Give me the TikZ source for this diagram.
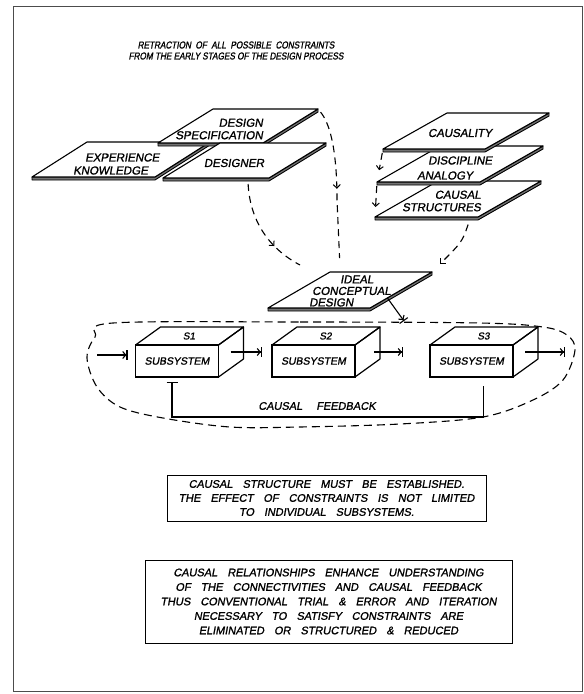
\documentclass[tikz,border=0pt]{standalone}
\usepackage{fontspec}
\newfontfamily\hand{Liberation Sans}[FakeSlant=0.18,FakeBold=1.2]
\newfontfamily\handnarrow{Liberation Sans}[FakeSlant=0.18,FakeStretch=0.82,FakeBold=1.2]
\usetikzlibrary{arrows.meta,calc,decorations.markings}

% wide gap between hand-lettered words
\newcommand\wg{\hspace{10pt}}
\newcommand\tg{\hspace{4.5pt}}

\tikzset{
  frame/.style={draw=black!70, line width=1pt},
  heading/.style={font=\handnarrow\fontsize{10}{11}\selectfont, align=center, inner sep=0pt},
  slabedge/.style={draw=black, fill=black!55, line width=0.9pt, line join=round},
  slabface/.style={draw=black, fill=white, line width=1.1pt, line join=round},
  slabtext/.style={font=\hand\fontsize{11.5}{12.5}\selectfont, inner sep=0pt},
  flow/.style={draw, dash pattern=on 7pt off 5pt, line width=1.1pt},
  midtip/.style={postaction={decorate}, decoration={markings,
      mark=at position #1 with {\arrow{Straight Barb[length=3.5pt,width=7pt,line width=1pt]}}}},
  endtip/.style={-{Straight Barb[length=3.5pt,width=7pt,line width=1pt]}},
  sysfront/.style={draw, line width=1.2pt, minimum width=83pt, minimum height=32pt,
      inner sep=0pt, outer sep=0pt, fill=white, font=\hand\fontsize{10.5}{12}\selectfont},
  sysline/.style={line width=1.2pt, line join=round},
  systag/.style={font=\hand\fontsize{10}{11}\selectfont, inner sep=0pt},
  signal/.style={line width=1.1pt, -{Straight Barb[length=3pt,width=7pt]Bar[width=10pt]}},
  feedback/.style={line width=1.1pt, -{Bar[width=11pt]}},
  loopline/.style={dash pattern=on 8pt off 5pt, line width=1.1pt},
  loopnote/.style={font=\hand\fontsize{11}{12}\selectfont, inner sep=0pt},
  note/.style={draw, line width=1pt, align=center, inner sep=0pt, outer sep=0pt,
      font=\hand\fontsize{11}{14}\selectfont},
}

% flat slab: name, bottom-left x, bottom-left y, width, height, skew
\newcommand\drawslab[6]{%
  \coordinate (#1-bl) at (#2,#3);
  \coordinate (#1-br) at ($(#1-bl)+(#4,0)$);
  \coordinate (#1-tr) at ($(#1-br)+(#6,-#5)$);
  \coordinate (#1-tl) at ($(#1-bl)+(#6,-#5)$);
  \filldraw[slabedge] (#1-bl) -- (#1-br) -- (#1-tr) -- ++(0,3)
      -- ($(#1-br)+(0,3)$) -- ($(#1-bl)+(0,3)$) -- cycle;
  \filldraw[slabface] (#1-bl) -- (#1-br) -- (#1-tr) -- (#1-tl) -- cycle;
}

% box-shaped subsystem: name, centre x, centre y, tag
\newcommand\drawsubsystem[4]{%
  \node[sysfront] (#1) at (#2,#3) {SUBSYSTEM};
  \draw[sysline] (#1.north west) -- ++(25,-18) -- ($(#1.north east)+(25,-18)$) -- (#1.north east);
  \draw[sysline] (#1.north east) -- ++(25,-18) -- ++(0,32) -- (#1.south east);
  \node[systag] (#1-tag) at ($(#1.north)+(12,-9)$) {#4};
  \coordinate (#1-out) at ($(#1.east)+(12,-9)$);
}

\begin{document}
\begin{tikzpicture}[x=1pt,y=-1pt]
\useasboundingbox (0,0) rectangle (584,694);
\fill[white] (0,0) rectangle (584,694);
\draw[frame] (13,6) rectangle (582,691);

\node[heading] (title) at (236,50.5)
  {RETRACTION\tg OF\tg ALL\tg POSSIBLE\tg CONSTRAINTS\\FROM THE EARLY STAGES OF THE DESIGN PROCESS};

% input slabs
\drawslab{exp}{32}{177}{123}{35}{55}
\drawslab{spec}{158}{143}{105}{34}{55}
\drawslab{des}{163}{178}{106}{35}{57}
\drawslab{cs}{375}{217}{103}{36}{63}
\drawslab{disc}{377}{182}{103}{36}{63}
\drawslab{caus}{383}{149}{102}{36}{64}
\drawslab{ideal}{268}{308}{102}{36}{62}

\node[slabtext, align=right, anchor=east] (spec) at (263,129) {DESIGN\\SPECIFICATION};
\node[slabtext, align=left, anchor=west] (exp) at (73,164) {\hspace*{12pt}EXPERIENCE\\[0.5pt]KNOWLEDGE};
\node[slabtext] (des) at (234,163) {DESIGNER};
\node[slabtext] (caus) at (460,133) {CAUSALITY};
\node[slabtext, align=left, anchor=west] (disc) at (417,168) {\hspace*{11pt}DISCIPLINE\\[2.5pt]ANALOGY};
\node[slabtext, align=right, anchor=east] (cs) at (481,201) {CAUSAL\\STRUCTURES};
\node[slabtext, align=left, anchor=west, font=\hand\fontsize{11.5}{11.5}\selectfont] (ideal) at (309,291)
  {\hspace*{31pt}IDEAL\\\hspace*{3pt}CONCEPTUAL\\DESIGN};

% dashed influences
\coordinate (des-s) at ($(des-bl)!0.8!(des-br)$);
\coordinate (ideal-nw) at ($(ideal-tl)+(-30,-7)$);
\coordinate (ideal-in) at ($(ideal-tl)!0.1!(ideal-tr)$);
\coordinate (cs-s) at ($(cs-bl)!0.93!(cs-br)$);

\draw[flow, midtip=0.5, shorten <=4pt, shorten >=14pt] (spec-tr) .. controls (332,126) and (337,158) .. (337,200) -- (ideal-in);
\draw[flow, midtip=0.7, shorten <=6pt] (des-s) .. controls (250,220) and (268,248) .. (ideal-nw);
\draw[flow, endtip, shorten <=8pt, shorten >=12pt] (cs-s) .. controls (462,242) .. (ideal-tr);
\draw[flow, endtip, shorten <=4pt, shorten >=12pt] (caus-bl) -- (disc-bl);
\draw[flow, endtip, shorten <=4pt, shorten >=10pt] (disc-bl) -- (cs-bl);

% system boundary
\draw[loopline] plot[smooth cycle, tension=0.55] coordinates {
  (113,323) (300,322) (480,323) (543,327) (567,335) (575,350) (563,380)
  (533,400) (483,417) (400,424) (300,427) (230,427) (163,418) (120,407)
  (97,387) (87,358) (95,337)};
\coordinate (loop-n) at (404,321);
\draw[signal] ($(ideal-br)!0.28!(ideal-tr)$) -- (loop-n);

% subsystems
\drawsubsystem{s1}{177}{361}{S1}
\drawsubsystem{s2}{313.5}{361}{S2}
\drawsubsystem{s3}{471.5}{361}{S3}

\coordinate (sys-in) at (97,355);
\coordinate (sys-out) at (565,352);
\draw[signal, shorten >=8pt] (sys-in) -- (sys-in -| s1.west);
\draw[signal, shorten >=10pt] (s1-out) -- (s1-out -| s2.west);
\draw[signal, shorten <=7pt, shorten >=27pt] (s2-out) -- (s2-out -| s3.west);
\draw[signal] (s3-out) -- (sys-out);

\draw[feedback, shorten <=9pt] ([xshift=12pt]s3.south) -- ++(0,40) -| ([xshift=-5pt,yshift=-5pt]s1.south);
\node[loopnote] (fbk) at (317,406) {CAUSAL\hspace{14pt}FEEDBACK};

% conclusions
\node[note, minimum width=319pt, minimum height=46pt] (noteA) at (326.5,498)
  {CAUSAL\wg STRUCTURE\wg MUST\wg BE\wg ESTABLISHED.\\
   THE\wg EFFECT\wg OF\wg CONSTRAINTS\wg IS\wg NOT\wg LIMITED\\
   TO\wg INDIVIDUAL\wg SUBSYSTEMS.};
\node[note, minimum width=367pt, minimum height=83pt, font=\hand\fontsize{11}{14.5}\selectfont] (noteB) at (328.5,601.5)
  {CAUSAL\wg RELATIONSHIPS\wg ENHANCE\wg UNDERSTANDING\\
   OF\wg THE\wg CONNECTIVITIES\wg AND\wg CAUSAL\wg FEEDBACK\\
   THUS\wg CONVENTIONAL\wg TRIAL\wg \&\wg ERROR\wg AND\wg ITERATION\\
   NECESSARY\wg TO\wg SATISFY\wg CONSTRAINTS\wg ARE\\
   ELIMINATED\wg OR\wg STRUCTURED\wg \&\wg REDUCED};
\end{tikzpicture}
\end{document}
